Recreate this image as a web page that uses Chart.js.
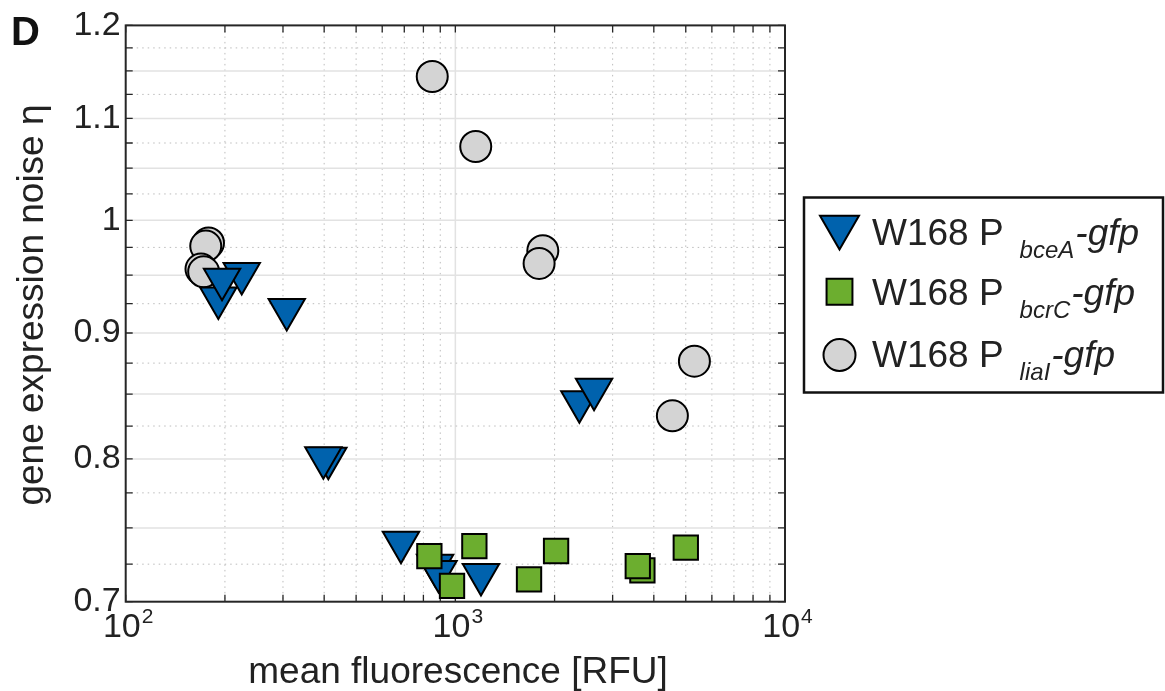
<!DOCTYPE html>
<html>
<head>
<meta charset="utf-8">
<script src="https://cdn.jsdelivr.net/npm/chart.js@4.4.1/dist/chart.umd.min.js"></script>
<style>
  html, body { margin: 0; padding: 0; background: #fff; }
  #wrap { width: 1165px; height: 691px; }
</style>
</head>
<body>
<div id="wrap"><canvas id="noiseChart" width="1165" height="691"></canvas></div>
<script>
// Mean fluorescence vs. gene expression noise, three W168 promoter-gfp fusions
const bceaX = [191, 224.9, 196, 308, 411.8, 397.7, 684, 868, 889, 1196, 2378, 2635];
const bceaY = [0.9299, 0.9515, 0.9464, 0.920, 0.8006, 0.8008, 0.740, 0.7243, 0.720, 0.7181, 0.8439, 0.8538];

const bcrcX = [834, 977, 1142, 1673, 2021, 3693, 3576, 5001];
const bcrcY = [0.7305, 0.7104, 0.7374, 0.7148, 0.734, 0.7208, 0.7237, 0.7363];

const lialX = [851, 1153, 1842, 1795, 178.3, 174.9, 169.2, 172.4, 5311, 4554];
const lialY = [1.144, 1.0715, 0.972, 0.9605, 0.979, 0.9762, 0.9554, 0.953, 0.8766, 0.8329];

const xTickValues = [100, 1000, 10000];
const xTickExponents = ['2', '3', '4'];
const yTickValues = [0.7, 0.8, 0.9, 1, 1.1, 1.2];

const FONT = "'Liberation Sans', Arial, Helvetica, sans-serif";
const TEXT = '#222222';
const BLUE = '#0062ad';
const GREEN = '#6cae2f';
const GRAY = '#d4d4d4';

function toPoints(xs, ys) {
  return xs.map((x, i) => ({ x: x, y: ys[i] }));
}

// minor grid positions: 2..9 per decade on x, every 0.025 on y
const xGrid = [];
for (let d = 100; d < 10000; d *= 10) {
  for (let m = 1; m < 10; m++) xGrid.push(d * m);
}
const yGrid = [];
for (let k = 0; k <= 20; k++) yGrid.push({ v: Math.round((0.7 + k * 0.025) * 1000) / 1000, solid: k % 2 === 0 });

function setFont(ctx, size, style) {
  ctx.font = (style || '') + ' ' + size + 'px ' + FONT;
}

const framePlugin = {
  id: 'frame',
  beforeDatasetsDraw(chart) {
    const ctx = chart.ctx;
    const { left, right, top, bottom } = chart.chartArea;
    const xs = chart.scales.x, ys = chart.scales.y;
    ctx.save();

    // grid lines
    xGrid.forEach(v => {
      if (v === 100) return;
      const px = xs.getPixelForValue(v);
      const major = (v === 1000);
      ctx.beginPath();
      ctx.lineWidth = major ? 1.5 : 1;
      ctx.strokeStyle = major ? '#e2e2e2' : '#bcbcbc';
      ctx.setLineDash(major ? [] : [1.5, 4]);
      ctx.moveTo(px, top);
      ctx.lineTo(px, bottom);
      ctx.stroke();
    });
    yGrid.forEach(g => {
      if (g.v <= 0.7 || g.v >= 1.2) return;
      const py = ys.getPixelForValue(g.v);
      ctx.beginPath();
      ctx.lineWidth = g.solid ? 1.5 : 1;
      ctx.strokeStyle = g.solid ? '#e2e2e2' : '#bcbcbc';
      ctx.setLineDash(g.solid ? [] : [1.5, 4]);
      ctx.moveTo(left, py);
      ctx.lineTo(right, py);
      ctx.stroke();
    });
    ctx.setLineDash([]);

    // inward tick marks on all four sides
    ctx.strokeStyle = '#262626';
    ctx.lineWidth = 1.3;
    const tl = 7;
    ctx.beginPath();
    xGrid.forEach(v => {
      const px = xs.getPixelForValue(v);
      ctx.moveTo(px, bottom); ctx.lineTo(px, bottom - tl);
      ctx.moveTo(px, top); ctx.lineTo(px, top + tl);
    });
    yGrid.forEach(g => {
      const py = ys.getPixelForValue(g.v);
      ctx.moveTo(left, py); ctx.lineTo(left + tl, py);
      ctx.moveTo(right, py); ctx.lineTo(right - tl, py);
    });
    ctx.stroke();

    // axes box
    ctx.lineWidth = 2;
    ctx.strokeRect(left, top, right - left, bottom - top);
    ctx.restore();
  },
  afterDraw(chart) {
    const ctx = chart.ctx;
    const xs = chart.scales.x;
    ctx.save();
    ctx.fillStyle = TEXT;

    // x tick labels as 10^n
    xTickValues.forEach((v, i) => {
      const px = xs.getPixelForValue(v);
      setFont(ctx, 34);
      const wBase = ctx.measureText('10').width;
      setFont(ctx, 21);
      const wSup = ctx.measureText(xTickExponents[i]).width;
      const x0 = px - (wBase + wSup) / 2 + 2;
      ctx.textAlign = 'left';
      ctx.textBaseline = 'alphabetic';
      setFont(ctx, 34);
      ctx.fillText('10', x0, 637);
      setFont(ctx, 21);
      ctx.fillText(xTickExponents[i], x0 + wBase + 1, 623);
    });

    // axis titles
    setFont(ctx, 37);
    ctx.textAlign = 'center';
    ctx.fillText('mean fluorescence [RFU]', 458, 683);
    ctx.save();
    ctx.translate(43, 305);
    ctx.rotate(-Math.PI / 2);
    ctx.fillText('gene expression noise \u03b7', 0, 0);
    ctx.restore();

    // panel letter
    setFont(ctx, 40, 'bold');
    ctx.textAlign = 'left';
    ctx.fillStyle = '#111';
    ctx.fillText('D', 11, 45);

    // legend
    const bx = 804, by = 197.5, bw = 359, bh = 195;
    ctx.fillStyle = '#fff';
    ctx.fillRect(bx, by, bw, bh);
    ctx.lineWidth = 2.5;
    ctx.strokeStyle = '#111';
    ctx.strokeRect(bx, by, bw, bh);

    const rows = [
      { style: 'triangle', rotation: 180, radius: 22.5, color: BLUE, my: 227, base: 245, sub: 'bceA' },
      { style: 'rect', rotation: 0, radius: 18.3, color: GREEN, my: 291.7, base: 305, sub: 'bcrC' },
      { style: 'circle', rotation: 0, radius: 16, color: GRAY, my: 355, base: 366.7, sub: 'liaI' }
    ];
    rows.forEach(r => {
      ctx.fillStyle = r.color;
      ctx.strokeStyle = '#000';
      ctx.lineWidth = 2;
      Chart.helpers.drawPoint(ctx, { pointStyle: r.style, rotation: r.rotation, radius: r.radius, borderWidth: 2 }, 839.5, r.my);

      ctx.fillStyle = TEXT;
      ctx.textAlign = 'left';
      setFont(ctx, 37);
      const head = 'W168 P';
      ctx.fillText(head, 872, r.base);
      let x = 872 + ctx.measureText(head).width + 16;
      setFont(ctx, 24, 'italic');
      ctx.fillText(r.sub, x, r.base + 13);
      x += ctx.measureText(r.sub).width + 1;
      setFont(ctx, 37, 'italic');
      ctx.fillText('-gfp', x, r.base);
    });
    ctx.restore();
  }
};

Chart.defaults.font.family = FONT;

new Chart(document.getElementById('noiseChart').getContext('2d'), {
  type: 'scatter',
  data: {
    datasets: [
      {
        label: 'W168 PbcrC-gfp',
        data: toPoints(bcrcX, bcrcY),
        pointStyle: 'rect',
        pointRadius: 17.2,
        pointHoverRadius: 17.2,
        pointBackgroundColor: GREEN,
        pointBorderColor: '#000',
        pointBorderWidth: 2,
        pointHoverBorderWidth: 2,
        order: 1
      },
      {
        label: 'W168 PbceA-gfp',
        data: toPoints(bceaX, bceaY),
        pointStyle: 'triangle',
        pointRotation: 180,
        pointRadius: 21,
        pointHoverRadius: 21,
        pointBackgroundColor: BLUE,
        pointBorderColor: '#000',
        pointBorderWidth: 2,
        pointHoverBorderWidth: 2,
        order: 2
      },
      {
        label: 'W168 PliaI-gfp',
        data: toPoints(lialX, lialY),
        pointStyle: 'circle',
        pointRadius: 15.5,
        pointHoverRadius: 15.5,
        pointBackgroundColor: GRAY,
        pointBorderColor: '#000',
        pointBorderWidth: 2,
        pointHoverBorderWidth: 2,
        order: 3
      }
    ]
  },
  options: {
    responsive: false,
    animation: false,
    devicePixelRatio: 1,
    layout: { padding: { left: 0, top: 25.3, right: 380, bottom: 0 } },
    plugins: {
      legend: { display: false },
      tooltip: { enabled: false }
    },
    scales: {
      x: {
        type: 'logarithmic',
        min: 100,
        max: 10000,
        grid: { display: false, drawTicks: false },
        border: { display: false },
        ticks: { display: false },
        afterFit: scale => { scale.height = 89.3; }
      },
      y: {
        type: 'logarithmic',
        min: 0.7,
        max: 1.2,
        grid: { display: false, drawTicks: false },
        border: { display: false },
        afterBuildTicks: scale => {
          scale.ticks = yTickValues.map(v => ({ value: v }));
        },
        afterFit: scale => { scale.width = 125.7; },
        ticks: {
          padding: 5,
          color: TEXT,
          autoSkip: false,
          font: { size: 34, family: FONT },
          callback: v => String(Math.round(v * 10) / 10)
        }
      }
    }
  },
  plugins: [framePlugin]
});
</script>
</body>
</html>
